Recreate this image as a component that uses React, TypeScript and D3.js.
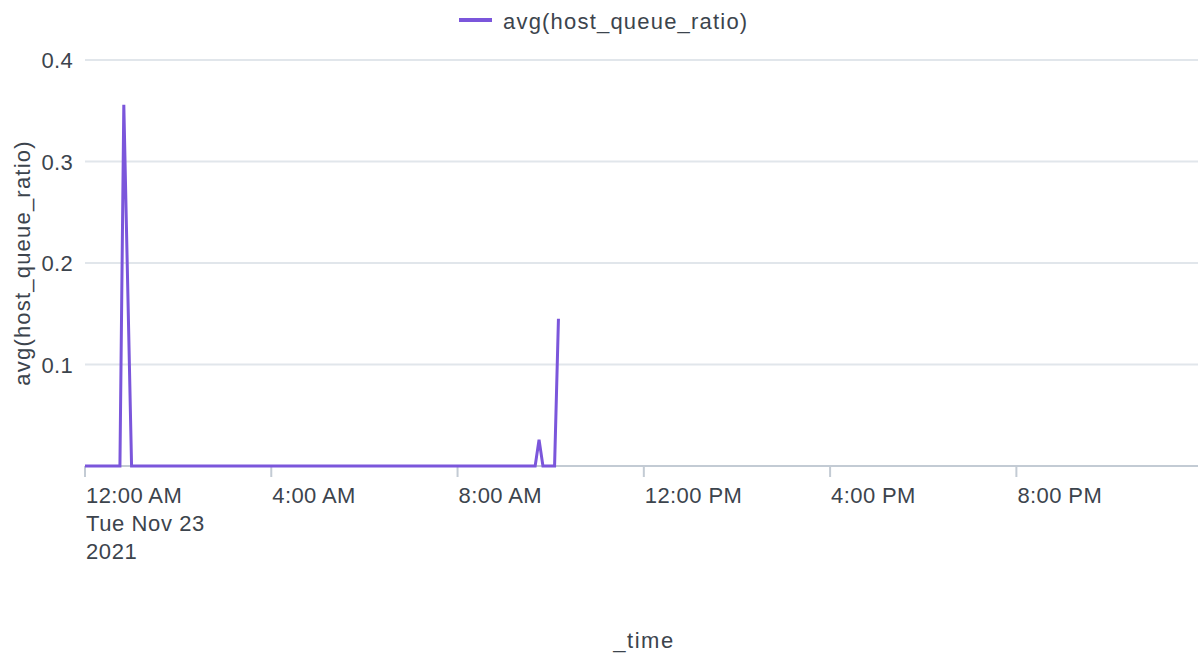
import React from "react";
import * as d3 from "d3";

// sampled points (5 min buckets, flat stretches left out)
const times = [
  "2021-11-23T00:00",
  "2021-11-23T00:45",
  "2021-11-23T00:50",
  "2021-11-23T01:00",
  "2021-11-23T09:40",
  "2021-11-23T09:45",
  "2021-11-23T09:50",
  "2021-11-23T10:05",
  "2021-11-23T10:10",
];
const values = [0, 0, 0.356, 0, 0, 0.026, 0, 0, 0.145];

const yTicks = [0.1, 0.2, 0.3, 0.4];
const xTickTimes = [
  "2021-11-23T00:00",
  "2021-11-23T04:00",
  "2021-11-23T08:00",
  "2021-11-23T12:00",
  "2021-11-23T16:00",
  "2021-11-23T20:00",
];
const firstTickExtra = ["Tue Nov 23", "2021"];
const seriesName = "avg(host_queue_ratio)";
const xTitle = "_time";

const FONT = "'Liberation Sans', Arial, Helvetica, sans-serif";
const TEXT = "#3c444d";
const PURPLE = "#7b56db";

const App = () => {
  const width = 1198;
  const height = 655;
  const margin = { top: 60, right: 0, bottom: 189, left: 85 };

  const data = times.map((t, i) => ({ date: new Date(t), value: values[i] }));

  const x = d3
    .scaleTime()
    .domain([new Date("2021-11-23T00:00"), new Date("2021-11-23T23:54")])
    .range([margin.left, width - margin.right]);
  const y = d3
    .scaleLinear()
    .domain([0, 0.4])
    .range([height - margin.bottom, margin.top]);

  const line = d3
    .line<{ date: Date; value: number }>()
    .x((d) => x(d.date))
    .y((d) => y(d.value));

  const fmt = d3.timeFormat("%-I:%M %p");

  return (
    <svg
      width={width}
      height={height}
      style={{ position: "absolute", left: 0, top: 0, fontFamily: FONT }}
    >
      {/* legend */}
      <line x1={459} x2={492} y1={20} y2={20} stroke={PURPLE} strokeWidth={4} />
      <text x={503} y={29} fontSize={22} fill={TEXT} letterSpacing={1.2}>
        {seriesName}
      </text>

      {/* grid */}
      {yTicks.map((t) => (
        <g key={t}>
          <line
            x1={margin.left}
            x2={width - margin.right}
            y1={y(t)}
            y2={y(t)}
            stroke="#e1e6eb"
            strokeWidth={2}
          />
          <text
            x={73}
            y={y(t) + 8}
            textAnchor="end"
            fontSize={22}
            fill={TEXT}
            letterSpacing={0.3}
          >
            {t}
          </text>
        </g>
      ))}

      {/* x axis */}
      <line
        x1={margin.left}
        x2={width - margin.right}
        y1={y(0)}
        y2={y(0)}
        stroke="#c3cbd4"
        strokeWidth={2}
      />
      {xTickTimes.map((t, i) => {
        const px = x(new Date(t));
        return (
          <g key={t}>
            <line
              x1={px}
              x2={px}
              y1={y(0)}
              y2={y(0) + 11}
              stroke="#c3cbd4"
              strokeWidth={2}
            />
            <text
              x={px + 1}
              y={503}
              fontSize={22}
              fill={TEXT}
              letterSpacing={0.4}
            >
              {fmt(new Date(t))}
            </text>
            {i === 0 &&
              firstTickExtra.map((s, j) => (
                <text
                  key={s}
                  x={px + 1}
                  y={531 + j * 28}
                  fontSize={22}
                  fill={TEXT}
                  letterSpacing={0.6}
                >
                  {s}
                </text>
              ))}
          </g>
        );
      })}

      {/* axis titles */}
      <text
        x={644}
        y={648}
        textAnchor="middle"
        fontSize={22}
        fill={TEXT}
        letterSpacing={1.5}
      >
        {xTitle}
      </text>
      <text
        transform={`translate(30, ${(y(0) + y(0.4)) / 2}) rotate(-90)`}
        textAnchor="middle"
        fontSize={22}
        fill={TEXT}
        letterSpacing={1.2}
      >
        {seriesName}
      </text>

      {/* series */}
      <path
        d={line(data) || ""}
        fill="none"
        stroke={PURPLE}
        strokeWidth={3}
        strokeLinejoin="miter"
      />
    </svg>
  );
};

export default App;
